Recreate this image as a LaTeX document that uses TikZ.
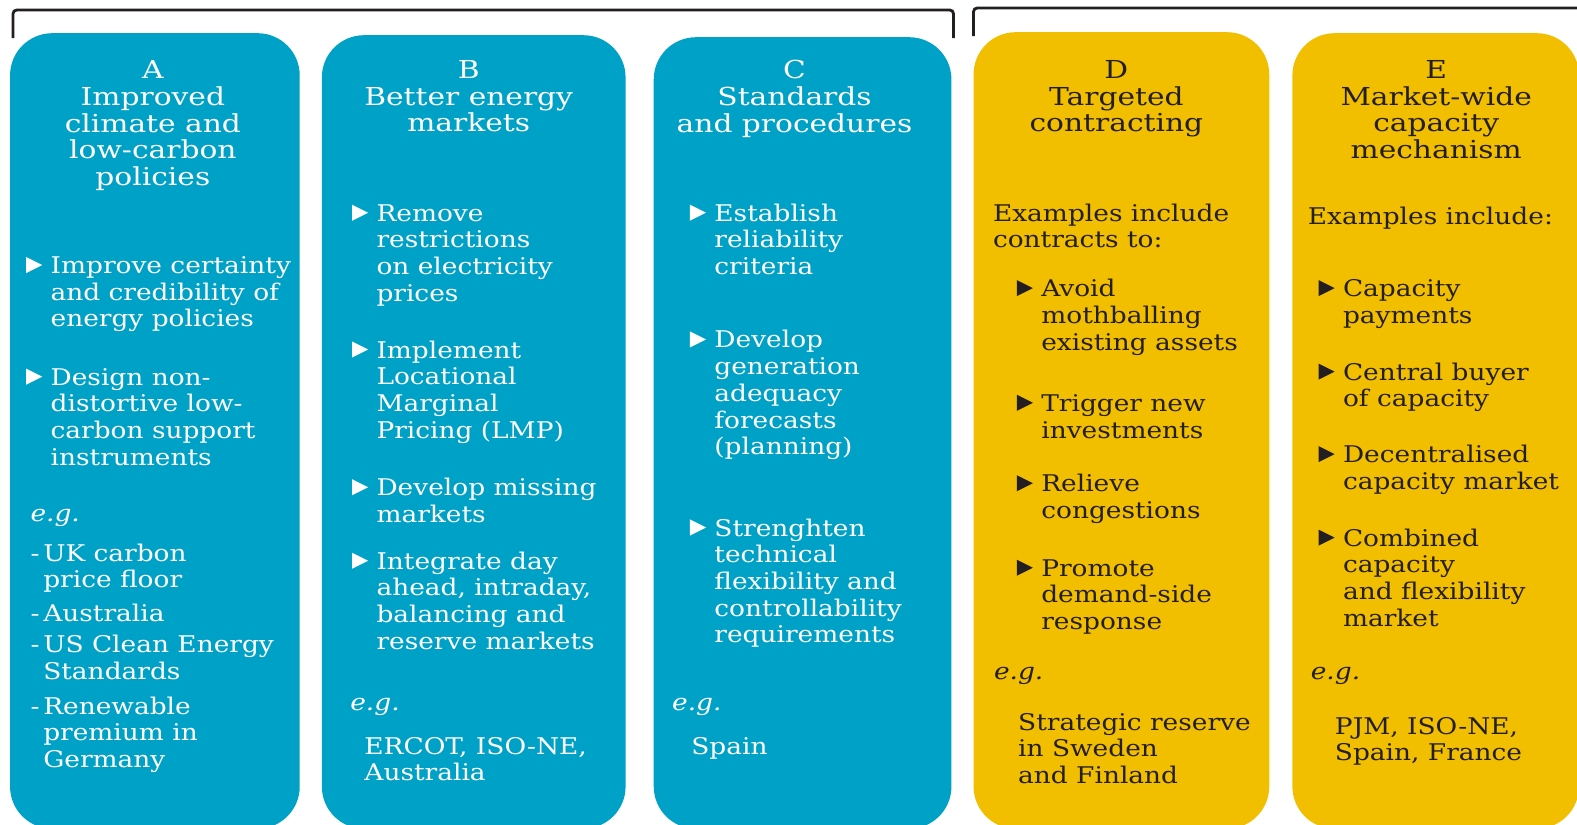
\documentclass[tikz,border=0pt]{standalone}
\usepackage{fontspec}
\setmainfont{DejaVu Serif}[FakeStretch=1.15]
\newfontfamily\headfont{DejaVu Serif}[FakeStretch=1.2]
\usetikzlibrary{calc}

\definecolor{ieablue}{RGB}{0,161,199}
\definecolor{ieagold}{RGB}{242,190,0}
\definecolor{inkdark}{RGB}{35,31,32}

% text blocks whose baseline is the first line
\newcommand\ml[1]{\begin{tabular}[t]{@{}l@{}}#1\end{tabular}}
\newcommand\mc[1]{\begin{tabular}[t]{@{}c@{}}#1\end{tabular}}
\newcommand\dl[1]{\begin{tabular}[t]{@{}l@{\,}l@{}}#1\end{tabular}}
% bullet item: text node plus a filled triangle in front of it
\newcommand\bul[4]{%
  \node[txt] (#1) at (#2,#3) {\ml{#4}};
  \fill ($(#1.base west)+(-24,-16.5)$) -- ++(16,8) -- ++(-16,8) -- cycle;}

\begin{document}
\begin{tikzpicture}[x=0.02cm,y=-0.02cm]
        \tikzstyle{txt} = [anchor=base west,inner sep=0pt,font=\fontsize{13}{15.1}\selectfont]
        \tikzstyle{head} = [txt,anchor=base,font=\headfont\fontsize{14}{15.1}\selectfont]
        \tikzstyle{eg} = [txt,font=\fontsize{13}{15.1}\selectfont\itshape]

        \useasboundingbox (0,0) rectangle (1568,820);

        % panels
        \fill[ieablue,rounded corners=0.84cm] (10,33) rectangle (298,824);
        \fill[ieablue,rounded corners=0.84cm] (320,35) rectangle (622,824);
        \fill[ieablue,rounded corners=0.84cm] (650,37) rectangle (946,824);
        \fill[ieagold,rounded corners=0.84cm] (968,32) rectangle (1262,824);
        \fill[ieagold,rounded corners=0.84cm] (1285,33) rectangle (1570,824);

        % brackets
        \draw[inkdark,line width=1.6pt,rounded corners=2pt] (13,38) -- (13,10) -- (948,10) -- (948,38);
        \draw[inkdark,line width=1.6pt,rounded corners=2pt] (968,36) -- (968,8) -- (1580,8);

        \begin{scope}[color=white]
        % A
        \node[head] (hA) at (152,78) {\mc{A\\Improved\\climate and\\low-carbon\\policies}};
        \bul{a1}{50}{272}{Improve certainty\\and credibility of\\energy policies}
        \bul{a2}{50}{383}{Design non-\\distortive low-\\carbon support\\instruments}
        \node[eg] (egA) at (30,519) {e.g.};
        \node[txt] (a3) at (30,558) {\dl{- & UK carbon\\ & price floor}};
        \node[txt] (a4) at (30,618) {\dl{- & Australia}};
        \node[txt] (a5) at (30,649) {\dl{- & US Clean Energy\\ & Standards}};
        \node[txt] (a6) at (30,710) {\dl{- & Renewable\\ & premium in\\ & Germany}};

        % B
        \node[head] (hB) at (466,78) {\mc{B\\Better energy\\markets}};
        \bul{b1}{374}{220}{Remove\\restrictions\\on electricity\\prices}
        \bul{b2}{374}{356}{Implement\\Locational\\Marginal\\Pricing (LMP)}
        \bul{b3}{374}{493}{Develop missing\\markets}
        \bul{b4}{374}{566}{Integrate day\\ahead, intraday,\\balancing and\\reserve markets}
        \node[eg] (egB) at (348,706) {e.g.};
        \node[txt] (b5) at (362,750) {\ml{ERCOT, ISO-NE,\\Australia}};

        % C
        \node[head] (hC) at (790,78) {\mc{C\\Standards\\and procedures}};
        \bul{c1}{710}{220}{Establish\\reliability\\criteria}
        \bul{c2}{710}{346}{Develop\\generation\\adequacy\\forecasts\\(planning)}
        \bul{c3}{710}{533}{Strenghten\\technical\\flexibility and\\controllability\\requirements}
        \node[eg] (egC) at (668,706) {e.g.};
        \node[txt] (c4) at (687,750) {Spain};
        \end{scope}

        \begin{scope}[color=inkdark]
        % D
        \node[head] (hD) at (1110,78) {\mc{D\\Targeted\\contracting}};
        \node[txt] (d0) at (987,220) {\ml{Examples include\\contracts to:}};
        \bul{d1}{1035}{295}{Avoid\\mothballing\\existing assets}
        \bul{d2}{1035}{409}{Trigger new\\investments}
        \bul{d3}{1035}{489}{Relieve\\congestions}
        \bul{d4}{1035}{573}{Promote\\demand-side\\response}
        \node[eg] (egD) at (988,676) {e.g.};
        \node[txt] (d5) at (1012,726) {\ml{Strategic reserve\\in Sweden\\and Finland}};

        % E
        \node[head] (hE) at (1428,78) {\mc{E\\Market-wide\\capacity\\mechanism}};
        \node[txt] (e0) at (1300,223) {Examples include:};
        \bul{e1}{1335}{295}{Capacity\\payments}
        \bul{e2}{1335}{378}{Central buyer\\of capacity}
        \bul{e3}{1335}{460}{Decentralised\\capacity market}
        \bul{e4}{1335}{543}{Combined\\capacity\\and flexibility\\market}
        \node[eg] (egE) at (1303,676) {e.g.};
        \node[txt] (e5) at (1327,730) {\ml{PJM, ISO-NE,\\Spain, France}};
        \end{scope}

    \end{tikzpicture}
\end{document}
